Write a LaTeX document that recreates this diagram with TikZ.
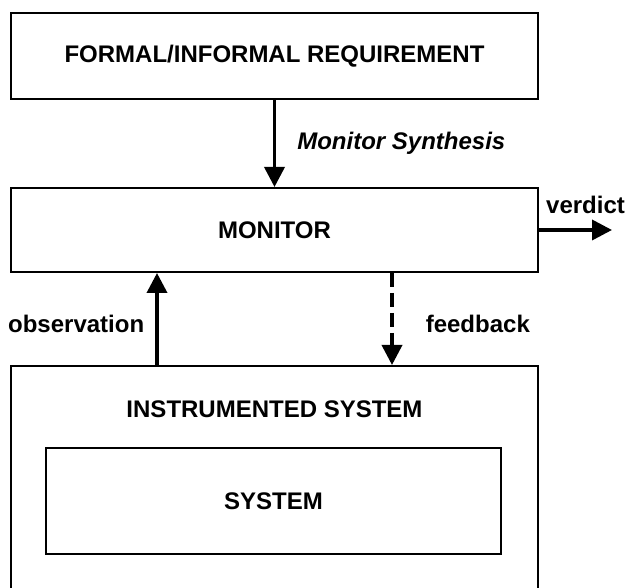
\documentclass[tikz,border=0pt]{standalone}
\usepackage{fontspec}
\setmainfont{Liberation Sans}
\usetikzlibrary{arrows.meta}

\begin{document}
\begin{tikzpicture}[x=0.5pt,y=0.5pt,>={Triangle[length=10pt,width=10pt]},
  font=\fontsize{12}{14}\selectfont\bfseries,
  main node/.style={rectangle,fill=white,draw,line width=1pt,minimum width=263.5pt,inner sep=0pt},
  sub node/.style={rectangle,fill=white,draw,line width=1pt,minimum width=227.5pt,minimum height=53pt,inner sep=0pt},
  text node/.style={inner sep=0pt}]

  \useasboundingbox (0,0) rectangle (626,588);
  \clip (0,0) rectangle (626,588);
  \node[main node] (1) [minimum height=43pt] at (274.5,532) {FORMAL/INFORMAL REQUIREMENT};
  \node[main node] (2) [minimum height=42pt] at (274.5,358) {MONITOR};
  \node[main node] (3) [minimum height=117pt] at (274.5,105) {};
  \node[text node] (5) at (274.5,179) {INSTRUMENTED SYSTEM};
  \node[sub node] (4) at (273.5,87) {SYSTEM};
  \coordinate (6) at (612,358);
  % arrows between the boxes
  \path[->,line width=1.8pt,every node/.style={text node}]
    (1) edge node [right=10.5pt] {\itshape Monitor Synthesis} (2)
    ([xshift=-58.75pt]3.north) edge node [left=5.5pt,pos=0.45] {observation} ([xshift=-58.75pt]2.south)
    ([xshift=58.75pt]2.south) edge [dash pattern=on 7pt off 3pt] node [right=16pt,pos=0.55] {feedback} ([xshift=58.75pt]3.north)
    (2.east) edge node [above=7pt,xshift=5pt] {verdict} (6);
\end{tikzpicture}
\end{document}
